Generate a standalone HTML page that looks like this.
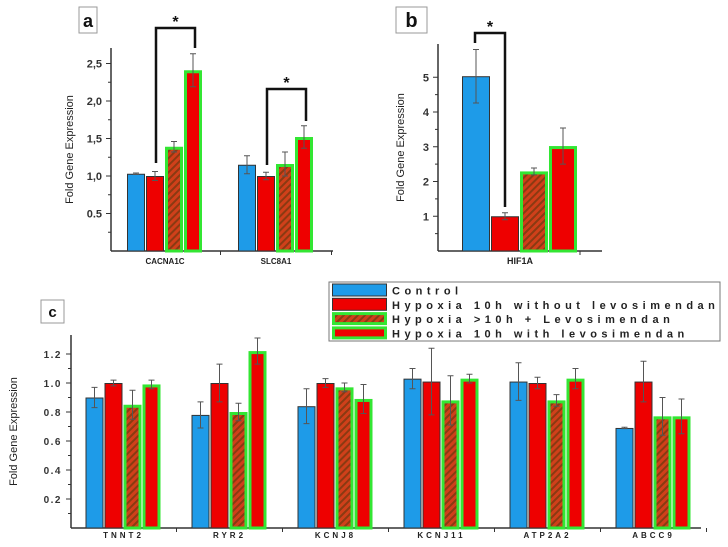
<!DOCTYPE html>
<html><head><meta charset="utf-8"><style>
html,body{margin:0;padding:0;background:#fff;}
svg{display:block;font-family:"Liberation Sans",sans-serif;}
</style></head><body>
<svg id="fig" width="728" height="547" viewBox="0 0 728 547">
<defs>
<pattern id="hatch" patternUnits="userSpaceOnUse" width="5" height="5" patternTransform="rotate(-45)">
<rect width="5" height="5" fill="#d0401a"/>
<rect width="5" height="2" fill="#8a3a12"/>
</pattern>
</defs>
</svg>
<script>
// ---- Panel a data ----
const aCategories = ["CACNA1C", "SLC8A1"];
const aControl = [1.03, 1.15];
const aHypoxia = [1.0, 1.0];
const aHypoxiaPlus = [1.39, 1.16];
const aWithLevo = [2.41, 1.52];
const aErrControl = [0.01, 0.12];
const aErrHypoxia = [0.06, 0.05];
const aErrHypoxiaPlus = [0.07, 0.16];
const aErrWithLevo = [0.22, 0.15];
const aTicks = ["0.5", "1.0", "1.5", "2.0", "2.5"];
const aTickLabels = ["0.5", "1,0", "1,5", "2,0", "2,5"];
// ---- Panel b data ----
const bCategories = ["HIF1A"];
const bControl = [5.03];
const bHypoxia = [1.0];
const bHypoxiaPlus = [2.29];
const bWithLevo = [3.02];
const bErrControl = [0.77];
const bErrHypoxia = [0.1];
const bErrHypoxiaPlus = [0.1];
const bErrWithLevo = [0.52];
const bTicks = ["1", "2", "3", "4", "5"];
const bTickLabels = ["1", "2", "3", "4", "5"];
// ---- Panel c data ----
const cCategories = ["TNNT2", "RYR2", "KCNJ8", "KCNJ11", "ATP2A2", "ABCC9"];
const cControl = [0.90, 0.78, 0.84, 1.03, 1.01, 0.69];
const cHypoxia = [1.00, 1.00, 1.00, 1.01, 1.00, 1.01];
const cHypoxiaPlus = [0.85, 0.80, 0.97, 0.88, 0.88, 0.77];
const cWithLevo = [0.99, 1.22, 0.89, 1.03, 1.03, 0.77];
const cErrControl = [0.07, 0.09, 0.12, 0.07, 0.13, 0.005];
const cErrHypoxia = [0.02, 0.13, 0.03, 0.23, 0.04, 0.14];
const cErrHypoxiaPlus = [0.10, 0.06, 0.03, 0.17, 0.04, 0.13];
const cErrWithLevo = [0.03, 0.09, 0.10, 0.03, 0.07, 0.12];
const cTicks = ["0.2", "0.4", "0.6", "0.8", "1.0", "1.2"];
const cTickLabels = ["0.2", "0.4", "0.6", "0.8", "1.0", "1.2"];
const legendLabels = ["Control", "Hypoxia 10h without levosimendan", "Hypoxia >10h + Levosimendan", "Hypoxia 10h with levosimendan"];

const NS = "http://www.w3.org/2000/svg";
const svg = document.getElementById("fig");
function mk(tag, attrs, parent) {
  const e = document.createElementNS(NS, tag);
  for (const k in attrs) e.setAttribute(k, attrs[k]);
  (parent || svg).appendChild(e);
  return e;
}
const fills = ["#1e9be8", "#ee0000", "url(#hatch)", "#ee0000"];
const strokes = ["#333", "#333", "#33e633", "#33e633"];
const sw = [1, 1, 3, 3];
const seriesKeys = ["control", "hypoxia", "hypoxia-plus-levo", "with-levo"];

function panel(p) {
  const g = mk("g", {});
  
  
  const y = v => p.y0 - v * p.scale;
  const xCenter = i => p.c0 + i * p.step;
  const ax = mk("line", {x1: p.ax0, x2: p.ax0, y1: p.axTop, y2: p.y0, stroke: "#333", "stroke-width": 1.5}, g);
  
  
  const bx = mk("line", {x1: p.ax0, x2: p.ax1, y1: p.y0, y2: p.y0, stroke: "#333", "stroke-width": 1.5}, g);
  
  
  for (let k = 0; k < p.ticks.length; k++) {
    const v = parseFloat(p.ticks[k]);
    mk("line", {x1: p.ax0 - 5, x2: p.ax0, y1: y(v), y2: y(v), stroke: "#333"}, g);
    const t = mk("text", {x: p.ax0 - 9, y: y(v) + 4, "text-anchor": "end", "font-size": p.tickFs, "font-weight": "bold", fill: "#333", "letter-spacing": p.ls}, g);
    t.textContent = p.tickLabels[k];
    
    
    if (k < p.ticks.length - 1) {
      const vm = (v + parseFloat(p.ticks[k + 1])) / 2;
      mk("line", {x1: p.ax0 - 3, x2: p.ax0, y1: y(vm), y2: y(vm), stroke: "#333"}, g);
    }
  }
  const vm0 = parseFloat(p.ticks[0]) / 2;
  mk("line", {x1: p.ax0 - 3, x2: p.ax0, y1: y(vm0), y2: y(vm0), stroke: "#333"}, g);
  const yt = mk("text", {transform: `translate(${p.titleX},${(p.axTop + p.y0) / 2}) rotate(-90)`, "text-anchor": "middle", "font-size": p.titleFs, fill: "#222"}, g);
  yt.textContent = "Fold Gene Expression";
  
  
  for (let i = 0; i < p.cats.length; i++) {
    const cx = xCenter(i);
    const startX = cx - p.bw * 2;
    for (let s = 0; s < 4; s++) {
      const v = p.series[s][i];
      const e = p.errs[s][i];
      const inset = sw[s] / 2;
      const r = mk("rect", {x: startX + s * p.bw + inset, y: y(v) + inset, width: p.bw - 2 * inset - 1, height: p.y0 - y(v) - inset, fill: fills[s], stroke: strokes[s], "stroke-width": sw[s]}, g);
      
      
      const ex = startX + s * p.bw + p.bw / 2 - 0.5;
      const eb = mk("path", {d: `M${ex},${y(v + e)}V${y(v - e)}M${ex - 3},${y(v + e)}H${ex + 3}M${ex - 3},${y(v - e)}H${ex + 3}`, stroke: "#555", "stroke-width": 1, fill: "none"}, g);
      
      
    }
    mk("line", {x1: cx + p.step / 2, x2: cx + p.step / 2, y1: p.y0, y2: p.y0 + 4, stroke: "#333"}, g);
    const cl = mk("text", {x: cx, y: p.y0 + p.catDy, "text-anchor": "middle", "font-size": p.catFs, "font-weight": "bold", fill: "#222", "letter-spacing": p.catLs}, g);
    cl.textContent = p.cats[i];
    
    
  }
  const lb = mk("rect", {x: p.lbl[0], y: p.lbl[1], width: p.lbl[2], height: p.lbl[3], fill: "#fff", stroke: "#999"}, g);
  
  
  const lt = mk("text", {x: p.lbl[0] + p.lbl[2] / 2, y: p.lbl[1] + p.lbl[3] - 6, "text-anchor": "middle", "font-size": p.lblFs, "font-weight": "bold", fill: "#111"}, g);
  lt.textContent = p.letter;
  
  
  return g;
}

panel({name: "panel-a", y0: 251, scale: 75, ax0: 111, ax1: 333, axTop: 48, c0: 165, step: 111, bw: 19,
  cats: aCategories, series: [aControl, aHypoxia, aHypoxiaPlus, aWithLevo], errs: [aErrControl, aErrHypoxia, aErrHypoxiaPlus, aErrWithLevo],
  ticks: aTicks, tickLabels: aTickLabels, tickFs: 11, ls: 0, titleX: 73, titleFs: 11, catFs: 8, catDy: 13, catLs: 0,
  lbl: [79, 7, 18, 26], lblFs: 18, letter: "a"});
panel({name: "panel-b", y0: 251, scale: 34.75, ax0: 438, ax1: 602, axTop: 44, c0: 520, step: 120, bw: 29,
  cats: bCategories, series: [bControl, bHypoxia, bHypoxiaPlus, bWithLevo], errs: [bErrControl, bErrHypoxia, bErrHypoxiaPlus, bErrWithLevo],
  ticks: bTicks, tickLabels: bTickLabels, tickFs: 11, ls: 0, titleX: 404, titleFs: 11, catFs: 9, catDy: 13, catLs: 0,
  lbl: [396, 7, 31, 26], lblFs: 20, letter: "b"});
panel({name: "panel-c", y0: 528, scale: 145, ax0: 71, ax1: 701, axTop: 335, c0: 123.5, step: 106, bw: 19,
  cats: cCategories, series: [cControl, cHypoxia, cHypoxiaPlus, cWithLevo], errs: [cErrControl, cErrHypoxia, cErrHypoxiaPlus, cErrWithLevo],
  ticks: cTicks, tickLabels: cTickLabels, tickFs: 10, ls: 1.5, titleX: 17, titleFs: 11, catFs: 8, catDy: 10, catLs: 3,
  lbl: [41, 300, 23, 23], lblFs: 15, letter: "c"});

function bracket(x1, x2, top, b1, b2) {
  const p = mk("path", {d: `M${x1},${b1}V${top}H${x2}V${b2}`, stroke: "#111", "stroke-width": 2.5, fill: "none"});
  
  
  const s = mk("text", {x: (x1 + x2) / 2, y: top - 1, "text-anchor": "middle", "font-size": 16, "font-weight": "bold", fill: "#111"});
  s.textContent = "*";
  
  
}
bracket(156, 195, 28, 163, 48);
bracket(267, 306, 89, 165, 121);
bracket(475, 505, 33, 43, 207);

const lg = mk("g", {});


const lbox = mk("rect", {x: 329, y: 282, width: 391, height: 59, fill: "#fff", stroke: "#777"}, lg);


for (let s = 0; s < 4; s++) {
  const yy = 283.5 + s * 14.3;
  const inset = sw[s] / 2;
  const sq = mk("rect", {x: 332 + inset, y: yy + inset, width: 55 - 2 * inset, height: 13 - 2 * inset, fill: fills[s], stroke: strokes[s], "stroke-width": sw[s]}, lg);
  
  
  const t = mk("text", {x: 392, y: yy + 11, "font-size": 11, "font-weight": "bold", fill: "#222", "letter-spacing": 4.5}, lg);
  t.textContent = legendLabels[s];
  
  
}
</script>
</body></html>
